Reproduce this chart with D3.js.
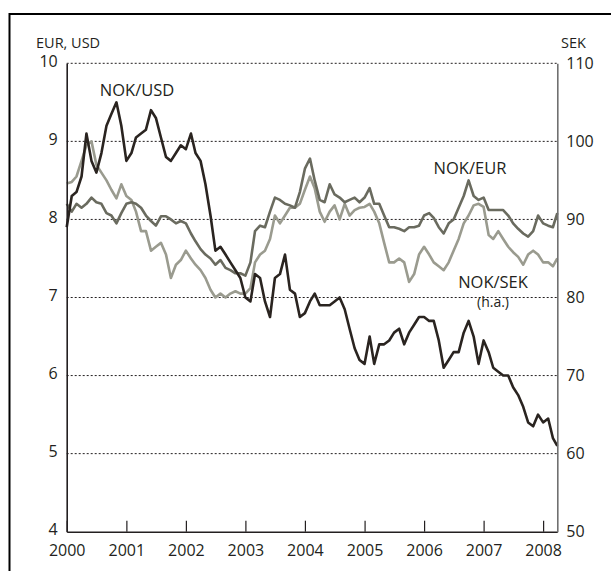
<!DOCTYPE html>
<html>
<head>
<meta charset="utf-8">
<script src="https://cdn.jsdelivr.net/npm/d3@7"></script>
<style>
  body { margin: 0; background: #fff; }
  svg { display: block; font-family: "Open Sans", sans-serif; }
</style>
</head>
<body>
<svg width="611" height="571"></svg>
<script>
// monthly observations, Jan 2000 .. Mar 2008, last point end of March 2008
const months = d3.timeMonth.range(new Date(2000, 0, 1), new Date(2008, 3, 1));
const dates = months.concat([new Date(2008, 2, 28)]);

const nokUsd = [
  7.9, 8.3, 8.35, 8.55, 9.1, 8.75, 8.6, 8.85, 9.2, 9.35,
  9.5, 9.2, 8.75, 8.85, 9.05, 9.1, 9.15, 9.4, 9.3, 9.05,
  8.8, 8.75, 8.85, 8.95, 8.9, 9.1, 8.85, 8.75, 8.45, 8.05,
  7.6, 7.65, 7.55, 7.45, 7.35, 7.25, 7.0, 6.95, 7.3, 7.25,
  6.95, 6.75, 7.25, 7.3, 7.55, 7.1, 7.05, 6.75, 6.8, 6.95,
  7.05, 6.9, 6.9, 6.9, 6.95, 7.0, 6.85, 6.6, 6.35, 6.2,
  6.15, 6.5, 6.15, 6.4, 6.4, 6.45, 6.55, 6.6, 6.4, 6.55,
  6.65, 6.75, 6.75, 6.7, 6.7, 6.45, 6.1, 6.2, 6.3, 6.3,
  6.55, 6.7, 6.5, 6.15, 6.45, 6.3, 6.1, 6.05, 6.0, 6.0,
  5.85, 5.75, 5.6, 5.4, 5.35, 5.5, 5.4, 5.45, 5.2, 5.1
];

const nokEur = [
  8.2, 8.1, 8.2, 8.15, 8.2, 8.28, 8.22, 8.2, 8.08, 8.05,
  7.95, 8.08, 8.2, 8.22, 8.2, 8.15, 8.05, 7.98, 7.92, 8.04,
  8.04, 8.0, 7.95, 7.98, 7.95, 7.82, 7.72, 7.62, 7.55, 7.5,
  7.42, 7.48, 7.38, 7.35, 7.31, 7.31, 7.28, 7.45, 7.85, 7.92,
  7.9, 8.1, 8.28, 8.25, 8.2, 8.18, 8.15, 8.35, 8.65, 8.78,
  8.5, 8.25, 8.22, 8.45, 8.32, 8.28, 8.22, 8.25, 8.28, 8.22,
  8.28, 8.4, 8.2, 8.2, 8.05, 7.9, 7.9, 7.88, 7.85, 7.9,
  7.9, 7.92, 8.05, 8.08, 8.02, 7.9, 7.82, 7.95, 8.0, 8.15,
  8.3, 8.5, 8.3, 8.25, 8.28, 8.12, 8.12, 8.12, 8.12, 8.05,
  7.95, 7.88, 7.82, 7.78, 7.85, 8.05, 7.95, 7.92, 7.9, 8.08
];

// right axis
const nokSek = [
  94.6, 94.8, 95.5, 97.5, 99.5, 100.0, 97.0, 96.0, 95.0, 93.8,
  92.7, 94.5, 93.0, 92.5, 91.0, 88.5, 88.5, 86.0, 86.5, 87.0,
  85.5, 82.5, 84.2, 84.8, 86.0, 85.0, 84.2, 83.5, 82.5, 81.0,
  80.0, 80.5, 80.0, 80.5, 80.8, 80.5, 80.5, 81.2, 84.5, 85.5,
  86.0, 87.5, 90.5, 89.5, 90.5, 91.5, 91.5, 92.0, 93.8, 95.5,
  94.0, 91.0, 89.7, 91.0, 91.8, 90.0, 92.0, 90.5, 91.2, 91.5,
  91.6, 92.0, 91.0, 89.5, 87.0, 84.5, 84.5, 85.0, 84.5, 82.0,
  83.0, 85.5, 86.5, 85.5, 84.5, 84.0, 83.5, 84.5, 86.0, 87.5,
  89.5, 90.5, 91.8, 92.0, 91.6, 88.0, 87.5, 88.5, 87.5, 86.5,
  85.8, 85.2, 84.2, 85.5, 86.0, 85.5, 84.5, 84.5, 84.0, 85.0
];

const years = d3.range(2000, 2009).map(y => new Date(y, 0, 1));
const leftTicks = [4, 5, 6, 7, 8, 9, 10];
const rightTicks = [50, 60, 70, 80, 90, 100, 110];
const gridValues = [5, 6, 7, 8, 9, 10];

const ink = '#231f20';
const svg = d3.select('svg');

// frame
svg.append('rect')
    .attr('x', 9.5).attr('y', 14)
    .attr('width', 700).attr('height', 700)
    .attr('fill', 'none')
    .attr('stroke', '#000')
    .attr('stroke-width', 2);

const x = d3.scaleTime()
    .domain([dates[0], dates[dates.length - 1]])
    .range([66.7, 557.3]);
const y = d3.scaleLinear().domain([4, 10]).range([531.7, 63.3]);
const ySek = d3.scaleLinear().domain([50, 110]).range([531.7, 63.3]);

// dotted grid
svg.append('g').selectAll('line')
  .data(gridValues)
  .join('line')
    .attr('x1', x.range()[0]).attr('x2', x.range()[1])
    .attr('y1', d => y(d)).attr('y2', d => y(d))
    .attr('stroke', ink)
    .attr('stroke-width', 1)
    .attr('stroke-dasharray', '2,2');

// series
const line = (scale, vals) => d3.line()
    .x((d, i) => x(dates[i]))
    .y(d => scale(d))(vals);

const series = [
  { vals: nokSek, scale: ySek, color: '#9a9b8f' },
  { vals: nokEur, scale: y, color: '#6a6b5f' },
  { vals: nokUsd, scale: y, color: '#2a2420' }
];
series.forEach(s => {
  svg.append('path')
      .attr('d', line(s.scale, s.vals))
      .attr('fill', 'none')
      .attr('stroke', s.color)
      .attr('stroke-width', 2.6)
      .attr('stroke-linejoin', 'round');
});

// axes
const xAxis = svg.append('g')
    .attr('transform', `translate(0,${y(4)})`)
    .call(d3.axisBottom(x).tickValues(years).tickSize(-11).tickSizeOuter(0)
      .tickPadding(13).tickFormat(d3.timeFormat('%Y')));

const leftAxis = svg.append('g')
    .attr('transform', `translate(${x.range()[0]},0)`)
    .call(d3.axisLeft(y).tickValues(leftTicks).tickSize(0).tickPadding(9)
      .tickFormat(d3.format('d')));

const rightAxis = svg.append('g')
    .attr('transform', `translate(${x.range()[1]},0)`)
    .call(d3.axisRight(ySek).tickValues(rightTicks).tickSize(0).tickPadding(9)
      .tickFormat(d3.format('d')));

[xAxis, leftAxis, rightAxis].forEach(g => {
  g.selectAll('text')
      .attr('fill', ink)
      .style('font-size', '16px')
      .style('font-family', '"Open Sans", sans-serif');
  g.selectAll('.tick line').attr('stroke', ink).attr('stroke-width', 1.2);
});
leftAxis.selectAll('text').attr('dy', '0.2em');
rightAxis.selectAll('text').attr('dy', '0.3em');
xAxis.select('.domain').attr('stroke', ink).attr('stroke-width', 1.6);
leftAxis.select('.domain').attr('stroke', ink).attr('stroke-width', 1.6);
rightAxis.select('.domain').attr('stroke', '#707070').attr('stroke-width', 1.6);

// titles and series labels
const labels = [
  { text: 'EUR, USD', x: 36, y: 48, anchor: 'start', size: 14.5 },
  { text: 'SEK', x: 561, y: 48, anchor: 'start', size: 14.5 },
  { text: 'NOK/USD', x: 137, y: 96, anchor: 'middle', size: 16.5 },
  { text: 'NOK/EUR', x: 470, y: 174, anchor: 'middle', size: 16.5 },
  { text: 'NOK/SEK', x: 493, y: 288, anchor: 'middle', size: 16.5 },
  { text: '(h.a.)', x: 493, y: 307, anchor: 'middle', size: 14 }
];
svg.append('g').selectAll('text')
  .data(labels)
  .join('text')
    .attr('x', d => d.x).attr('y', d => d.y)
    .attr('text-anchor', d => d.anchor)
    .attr('fill', ink)
    .style('font-size', d => d.size + 'px')
    .text(d => d.text);
</script>
</body>
</html>
